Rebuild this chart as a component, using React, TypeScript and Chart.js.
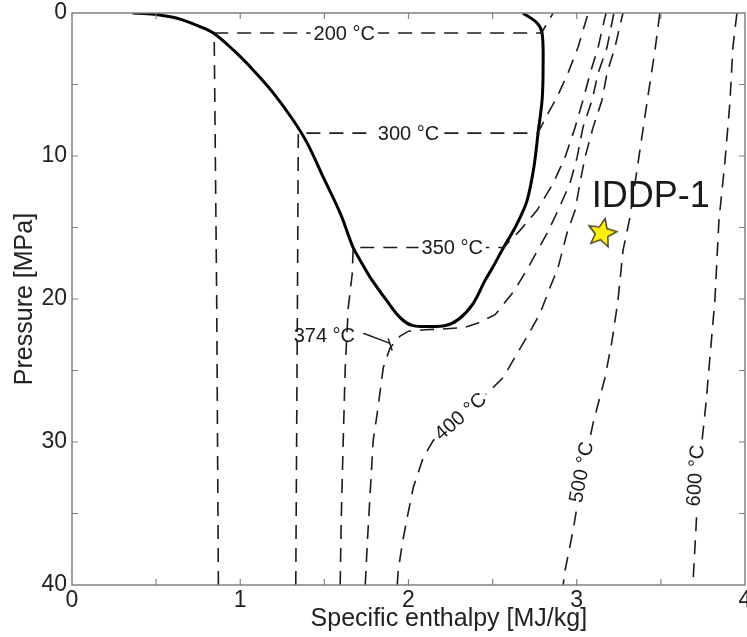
import React, { useEffect, useRef } from 'react';
import { Chart, registerables } from 'chart.js';

Chart.register(...registerables);

// ---------- data (h in MJ/kg, P in MPa) ----------
const domeH = [0.36, 0.45, 0.53, 0.60, 0.66, 0.75, 0.84, 0.96, 1.078, 1.197, 1.315, 1.398, 1.494, 1.594, 1.671, 1.713, 1.773, 1.87, 1.95, 2.02, 2.10, 2.22, 2.30, 2.385, 2.455, 2.50, 2.565, 2.615, 2.655, 2.705, 2.745, 2.772, 2.794, 2.80, 2.794, 2.764, 2.68];
const domeP = [0.0, 0.05, 0.15, 0.3, 0.5, 0.9, 1.4, 2.6, 4.0, 5.6, 7.5, 9.1, 11.5, 14.0, 16.4, 17.3, 18.5, 20.1, 21.3, 21.85, 21.92, 21.85, 21.4, 20.3, 18.7, 17.8, 16.4, 15.4, 14.5, 13.1, 10.8, 8.2, 6.1, 3.8, 1.4, 0.7, 0.0];

const iso200H = [0.87, 0.86, 0.845, 2.79, 2.86];
const iso200P = [40, 20, 1.4, 1.4, 0];

const iso300H = [1.33, 1.34, 1.345, 2.768, 2.83, 2.883, 2.948, 3.008, 3.061, 3.067];
const iso300P = [40, 20, 8.4, 8.4, 7.0, 5.88, 4.2, 2.38, 0.28, 0];

const iso350H = [1.594, 1.600, 1.612, 1.624, 1.642, 1.666, 1.671, 2.565, 2.663, 2.764, 2.86, 2.93, 2.99, 3.037, 3.08, 3.127, 3.168, 3.175];
const iso350P = [40, 35.5, 29.9, 24.8, 20.6, 18.2, 16.4, 16.4, 15.2, 13.8, 11.9, 10.1, 8.0, 6.1, 4.2, 2.4, 0.28, 0];

const iso374H = [1.743, 1.755, 1.773, 1.79, 1.814, 1.832, 1.85, 1.891, 1.95, 2.0, 2.1, 2.2, 2.33, 2.41, 2.515, 2.63, 2.711, 2.824, 2.889, 2.96, 3.002, 3.037, 3.091, 3.127, 3.18, 3.216, 3.22];
const iso374P = [40, 37.1, 33.4, 29.9, 28.0, 26.4, 24.8, 23.4, 22.6, 22.25, 22.15, 22.1, 22.0, 21.7, 21.1, 19.4, 17.8, 15.4, 13.8, 11.9, 10.1, 8.0, 6.1, 4.2, 2.4, 0.28, 0];

const iso400H = [1.933, 1.939, 1.963, 1.992, 2.028, 2.087, 2.147, 2.307, 2.485, 2.562, 2.681, 2.735, 2.782, 2.841, 2.889, 2.942, 2.99, 3.019, 3.049, 3.097, 3.15, 3.18, 3.227, 3.269, 3.275];
const iso400P = [40, 39.0, 37.1, 35.3, 33.2, 31.1, 29.9, 28.2, 26.4, 25.5, 23.1, 22.0, 21.0, 19.2, 17.8, 15.4, 13.8, 11.9, 10.1, 8.0, 6.1, 4.2, 2.4, 0.28, 0];

const iso500H = [3.494, 3.465, 3.417, 3.364, 3.316, 3.275, 3.245, 3.21, 3.168, 3.097, 3.037, 2.978, 2.93, 2.919];
const iso500P = [0, 2.6, 6.3, 10.5, 14.3, 16.6, 20.1, 22.9, 25.5, 28.7, 32.0, 36.2, 39.0, 40];

const iso600H = [3.952, 3.928, 3.91, 3.88, 3.845, 3.821, 3.79, 3.768, 3.726, 3.708, 3.69];
const iso600P = [0, 2.4, 6.3, 10.5, 14.5, 20.1, 24.3, 27.3, 32.0, 36.2, 40];

const leaderH = [1.731, 1.891];
const leaderP = [22.4, 23.1];
const leaderEndH = [1.879, 1.903];
const leaderEndP = [22.76, 23.6];

const starH = [3.15];
const starP = [15.4];

const isoLabels = ['200 °C', '300 °C', '350 °C', '374 °C', '400 °C', '500 °C', '600 °C'];
const isoLabelH = [1.618, 2.0, 2.26, 1.5, 2.307, 3.026, 3.703];
const isoLabelP = [1.4, 8.4, 16.4, 22.55, 28.2, 32.1, 32.35];
const isoLabelAngle = [0, 0, 0, 0, -41, -79, -86];
const isoLabelMask = [true, true, true, false, true, true, true];

const siteLabel = 'IDDP-1';
const siteLabelH = 3.44;
const siteLabelP = 12.9;

const xTitle = 'Specific enthalpy [MJ/kg]';
const xTitleH = 2.24;
const yTitle = 'Pressure [MPa]';

const xTicks = [0, 1, 2, 3, 4];
const yTicks = [0, 10, 20, 30, 40];

// ---------- helpers ----------
const zip = (h: number[], p: number[]) => h.map((x, i) => ({ x, y: p[i] }));
const FONT = "'Liberation Sans', Arial, Helvetica, sans-serif";

function makeStar(size: number): HTMLCanvasElement {
  const c = document.createElement('canvas');
  c.width = size;
  c.height = size;
  const ctx = c.getContext('2d')!;
  const cx = size / 2;
  const cy = size / 2;
  const R = size / 2 - 2;
  const r = R * 0.45;
  const rot = (12 * Math.PI) / 180;
  ctx.beginPath();
  for (let i = 0; i < 10; i++) {
    const a = -Math.PI / 2 + rot + (i * Math.PI) / 5;
    const rad = i % 2 === 0 ? R : r;
    const px = cx + rad * Math.cos(a);
    const py = cy + rad * Math.sin(a);
    if (i === 0) ctx.moveTo(px, py);
    else ctx.lineTo(px, py);
  }
  ctx.closePath();
  ctx.fillStyle = '#FFEF00';
  ctx.fill();
  ctx.lineWidth = 1.4;
  ctx.strokeStyle = '#3a3a2a';
  ctx.stroke();
  return c;
}

const framePlugin = {
  id: 'frameTicks',
  afterDatasetsDraw(chart: any) {
    const { ctx, chartArea: a, scales } = chart;
    const x = scales.x;
    const y = scales.y;
    ctx.save();
    ctx.strokeStyle = '#808080';
    ctx.lineWidth = 1.5;
    ctx.strokeRect(a.left, a.top, a.right - a.left, a.bottom - a.top);
    ctx.lineWidth = 1.2;
    ctx.beginPath();
    for (let v = 0.5; v < 4; v += 0.5) {
      const px = x.getPixelForValue(v);
      ctx.moveTo(px, a.bottom);
      ctx.lineTo(px, a.bottom - 6);
      ctx.moveTo(px, a.top);
      ctx.lineTo(px, a.top + 6);
    }
    for (let v = 5; v < 40; v += 5) {
      const py = y.getPixelForValue(v);
      ctx.moveTo(a.left, py);
      ctx.lineTo(a.left + 6, py);
      ctx.moveTo(a.right, py);
      ctx.lineTo(a.right - 6, py);
    }
    ctx.stroke();

    // isotherm labels
    ctx.font = `20px ${FONT}`;
    ctx.textAlign = 'center';
    ctx.textBaseline = 'middle';
    isoLabels.forEach((t, i) => {
      const px = x.getPixelForValue(isoLabelH[i]);
      const py = y.getPixelForValue(isoLabelP[i]);
      ctx.save();
      ctx.translate(px, py);
      ctx.rotate((isoLabelAngle[i] * Math.PI) / 180);
      const w = ctx.measureText(t).width;
      if (isoLabelMask[i]) {
        ctx.fillStyle = '#ffffff';
        ctx.fillRect(-w / 2 - 3, -10, w + 6, 20);
      }
      ctx.fillStyle = '#1a1a1a';
      ctx.fillText(t, 0, 1);
      ctx.restore();
    });

    // site label
    ctx.font = `36px ${FONT}`;
    ctx.fillStyle = '#1a1a1a';
    ctx.fillText(siteLabel, x.getPixelForValue(siteLabelH), y.getPixelForValue(siteLabelP));

    // x-axis title (offset to the right as in the original figure)
    ctx.font = `25px ${FONT}`;
    ctx.fillStyle = '#222222';
    ctx.fillText(xTitle, x.getPixelForValue(xTitleH), a.bottom + 34);
    ctx.restore();
  },
};

export default function App() {
  const ref = useRef<HTMLCanvasElement | null>(null);

  useEffect(() => {
    if (!ref.current) return;
    const star = makeStar(34);
    const dashed = (data: { x: number; y: number }[]) => ({
      data,
      borderColor: '#1c1c1c',
      borderWidth: 1.6,
      borderDash: [14, 9],
      pointRadius: 0,
      tension: 0,
      fill: false,
    });
    const chart = new Chart(ref.current, {
      type: 'line',
      data: {
        datasets: [
          dashed(zip(iso200H, iso200P)),
          dashed(zip(iso300H, iso300P)),
          dashed(zip(iso350H, iso350P)),
          dashed(zip(iso374H, iso374P)),
          dashed(zip(iso400H, iso400P)),
          dashed(zip(iso500H, iso500P)),
          dashed(zip(iso600H, iso600P)),
          {
            data: zip(domeH, domeP),
            borderColor: '#000000',
            borderWidth: 3,
            pointRadius: 0,
            tension: 0.35,
            fill: false,
          },
          {
            data: zip(leaderH, leaderP),
            borderColor: '#1c1c1c',
            borderWidth: 1.5,
            pointRadius: 0,
            fill: false,
          },
          {
            data: zip(leaderEndH, leaderEndP),
            borderColor: '#1c1c1c',
            borderWidth: 1.5,
            pointRadius: 0,
            fill: false,
          },
          {
            data: zip(starH, starP),
            showLine: false,
            pointStyle: star as any,
            pointRadius: 1,
            borderWidth: 0,
          },
        ] as any,
      },
      options: {
        animation: false,
        responsive: false,
        maintainAspectRatio: false,
        devicePixelRatio: 1,
        layout: { autoPadding: false, padding: { top: 13, right: 2, left: 0, bottom: 0 } },
        plugins: {
          legend: { display: false },
          tooltip: { enabled: false },
        },
        scales: {
          x: {
            type: 'linear',
            min: 0,
            max: 4,
            afterBuildTicks: (s: any) => {
              s.ticks = xTicks.map((v) => ({ value: v }));
            },
            ticks: {
              font: { family: FONT, size: 23 },
              color: '#222222',
              padding: 2,
              maxRotation: 0,
              autoSkip: false,
            },
            grid: { display: false, drawTicks: false },
            border: { display: false },
            title: { display: false },
            afterFit: (s: any) => {
              s.height = 52;
              s.paddingLeft = 0;
              s.paddingRight = 0;
            },
          },
          y: {
            type: 'linear',
            reverse: true,
            min: 0,
            max: 40,
            afterBuildTicks: (s: any) => {
              s.ticks = yTicks.map((v) => ({ value: v }));
            },
            ticks: {
              font: { family: FONT, size: 23 },
              color: '#222222',
              padding: 5,
              autoSkip: false,
            },
            grid: { display: false, drawTicks: false },
            border: { display: false },
            title: {
              display: true,
              text: yTitle,
              font: { family: FONT, size: 25 },
              color: '#222222',
              padding: { top: 10, bottom: 0 },
            },
            afterFit: (s: any) => {
              s.width = 72;
              s.paddingTop = 0;
              s.paddingBottom = 0;
            },
          },
        },
      } as any,
      plugins: [framePlugin],
    });
    return () => chart.destroy();
  }, []);

  return (
    <div style={{ position: 'fixed', left: 0, top: 0, width: 747, height: 637, background: '#ffffff' }}>
      <canvas ref={ref} width={747} height={637} style={{ width: 747, height: 637, display: 'block' }} />
    </div>
  );
}
